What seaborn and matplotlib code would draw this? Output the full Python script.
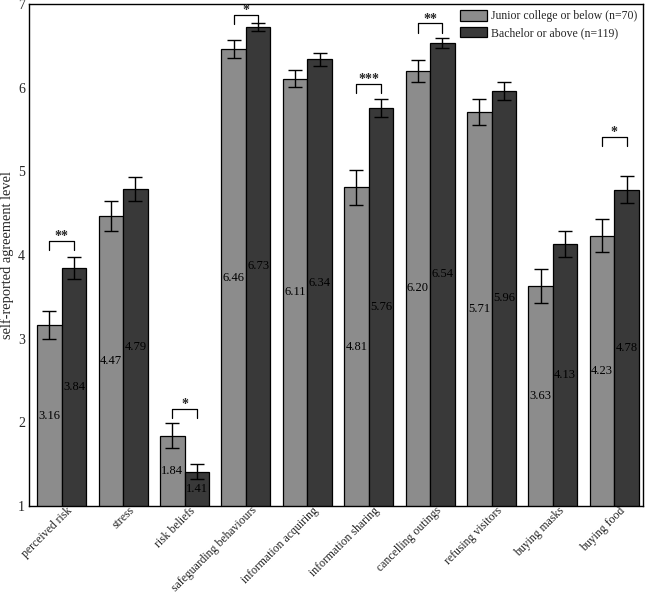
import numpy as np
import pandas as pd
import matplotlib
matplotlib.use("Agg")
import matplotlib.pyplot as plt
import matplotlib.transforms as mtransforms
import seaborn as sns

measures = ["perceived risk", "stress", "risk beliefs", "safeguarding behaviours",
            "information acquiring", "information sharing", "cancelling outings",
            "refusing visitors", "buying masks", "buying food"]
groups = ["Junior college or below (n=70)", "Bachelor or above (n=119)"]

junior_mean = [3.16, 4.47, 1.84, 6.46, 6.11, 4.81, 6.20, 5.71, 3.63, 4.23]
bachelor_mean = [3.84, 4.79, 1.41, 6.73, 6.34, 5.76, 6.54, 5.96, 4.13, 4.78]
junior_se = [0.17, 0.18, 0.145, 0.11, 0.10, 0.21, 0.13, 0.16, 0.20, 0.20]
bachelor_se = [0.13, 0.14, 0.09, 0.05, 0.08, 0.11, 0.06, 0.11, 0.16, 0.16]

# significance brackets: (measure index, stars, bracket height)
sig_idx = [0, 2, 3, 5, 6, 9]
sig_stars = ["**", "*", "*", "***", "**", "*"]
sig_height = [4.17, 2.16, 6.87, 6.05, 6.77, 5.41]

colors = ["#8c8c8c", "#393939"]

sns.set_style("white")
plt.rcParams["font.family"] = ["Liberation Serif", "DejaVu Serif"]

df = pd.DataFrame({
    "measure": measures * 2,
    "mean": junior_mean + bachelor_mean,
    "group": [groups[0]] * len(measures) + [groups[1]] * len(measures),
})

fig = plt.figure(figsize=(6.49, 5.93), dpi=100)
ax = fig.add_axes([0.045, 0.147, 0.946, 0.846])

sns.barplot(data=df, x="measure", y="mean", hue="group", hue_order=groups,
            palette=colors, edgecolor="black", linewidth=0.9, errorbar=None,
            width=0.8, ax=ax)

centers = []
for cont, means, ses in zip(ax.containers, [junior_mean, bachelor_mean],
                            [junior_se, bachelor_se]):
    xs = [p.get_x() + p.get_width() / 2 for p in cont.patches]
    centers.append(xs)
    ax.errorbar(xs, means, yerr=ses, fmt="none", ecolor="black",
                elinewidth=1.0, capsize=5, capthick=1.0, zorder=5)
    for x, m in zip(xs, means):
        ax.text(x, (1 + m) / 2, f"{m:.2f}", ha="center", va="center",
                fontsize=9, color="black", zorder=6)

drop = 0.11
for i, stars, h in zip(sig_idx, sig_stars, sig_height):
    x0, x1 = centers[0][i], centers[1][i]
    ax.plot([x0, x0, x1, x1], [h - drop, h, h, h - drop], color="black", lw=0.9)
    ax.text((x0 + x1) / 2, h + 0.01, stars, ha="center", va="baseline",
            fontsize=10, fontweight="bold")

ax.set_ylim(1, 7)
ax.set_xlim(-0.53, 9.47)
ax.set_yticks(range(1, 8))
ax.tick_params(axis="y", direction="in", length=4, labelsize=10, pad=3)
ax.tick_params(axis="x", length=0, labelsize=8.5, pad=2)
ax.set_xticks(range(len(measures)))
ax.set_xticklabels(measures, rotation=45, ha="right", rotation_mode="anchor")
# nudge the rotated labels so they end just right of each group centre
shift = mtransforms.ScaledTranslation(5 / 100, 4 / 100, fig.dpi_scale_trans)
for lbl in ax.get_xticklabels():
    lbl.set_transform(lbl.get_transform() + shift)
ax.set_xlabel("")
ax.set_ylabel("self-reported agreement level", fontsize=10.4, labelpad=3)
for s in ax.spines.values():
    s.set_visible(True)
    s.set_color("black")
    s.set_linewidth(1.0)

ax.legend(loc="upper right", frameon=False, fontsize=8.5, handlelength=2.3,
          handleheight=1.0, borderaxespad=0.3, labelspacing=0.35,
          handletextpad=0.35, borderpad=0.2)

fig.savefig("out.png", dpi=100)
